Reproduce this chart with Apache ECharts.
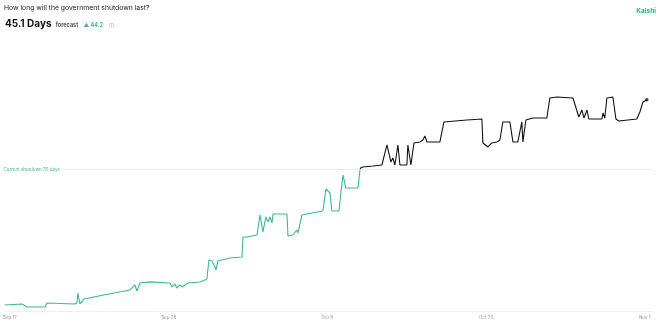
<!DOCTYPE html>
<html><head><meta charset="utf-8">
<script src="https://cdn.jsdelivr.net/npm/echarts@6/dist/echarts.min.js"></script>
<style>html,body{margin:0;padding:0;background:#fff}#c{width:658px;height:323px}</style>
</head><body><div id="c"></div>
<script>
const titleText = "How long will the government shutdown last?";
const forecastValue = "45.1 Days";
const changeText = "▲ 44.2";
const brand = "Kalshi";
const refLabel = "Current shutdown 35 days";
const refValue = 35;
const tickDays = [0, 11, 22, 33, 44];
const tickLabels = ["Sep 17", "Sep 28", "Oct 9", "Oct 20", "Nov 1"];
// days since Sep 17
const days = [-0.35,0.83,1.18,2.43,2.56,4.50,4.64,4.71,4.85,5.13,5.20,6.5,8.32,8.39,8.66,8.80,9.01,9.70,11.09,11.23,11.43,11.57,11.78,11.92,12.34,13.17,13.51,13.65,13.79,14.00,14.21,14.28,14.41,15.25,16.08,16.15,16.42,17.12,17.33,17.53,17.74,17.88,18.02,18.16,18.23,19.20,19.27,19.61,19.89,19.96,20.24,20.93,21.00,21.69,21.90,22.18,22.31,22.80,22.94,23.08,23.28,24.12,24.26,24.30,24.46,25.16,25.78,26.13,26.40,26.54,26.68,26.89,27.03,27.51,27.58,27.79,28.00,28.41,28.62,28.76,28.90,29.80,30.08,31.67,32.71,32.78,33.13,33.40,33.75,33.96,34.16,34.65,34.86,35.20,35.48,35.55,35.76,36.24,37.21,37.42,37.91,39.02,39.43,39.64,39.78,39.99,40.12,41.03,41.10,41.23,41.37,41.79,42.00,42.20,43.45,43.66,43.87,44.14];
// forecast length in days
const forecast = [15.47,15.62,15.18,15.18,15.76,15.62,15.76,17.20,15.62,16.34,16.34,16.9,17.64,17.64,18.36,17.49,18.65,18.8,18.65,18.07,18.50,17.92,18.36,18.07,18.65,18.79,19.08,19.22,21.97,21.82,20.96,20.52,21.82,22.25,22.40,25.28,25.28,25.57,28.46,26.01,28.17,27.45,28.17,27.31,28.60,28.60,25.43,25.57,26.29,25.86,28.46,28.75,28.89,29.04,32.21,31.63,29.04,29.04,31.63,34.23,32.35,32.35,34.95,35.24,35.39,35.53,35.67,38.56,36.11,36.68,35.67,38.56,35.67,35.67,38.56,35.67,38.85,39.00,39.28,39.86,39.00,39.00,41.88,42.17,42.31,38.85,38.27,38.85,39.00,39.28,41.88,41.88,39.00,39.00,41.88,39.00,42.17,42.46,42.46,45.34,45.49,45.34,42.60,43.61,42.46,43.61,42.31,42.31,43.18,42.46,45.34,45.49,42.31,42.02,42.31,43.32,44.76,45.1];

const green = '#3bb993';
const dark = '#111';
const yMin = 14.6, yMax = 54;
const pts = days.map((d, i) => [d, forecast[i]]);
const chart = echarts.init(document.getElementById('c'), null, {renderer: 'canvas'});
chart.setOption({
  animation: false,
  textStyle: {fontFamily: 'Inter, "Open Sans", sans-serif'},
  title: [
    {text: titleText, left: 4, top: 4, padding: 0, textStyle: {fontSize: 6.8, fontWeight: 'normal', color: '#222'}},
    {text: '{a|' + forecastValue + '} {b|forecast} {c|' + changeText + '} {d|ⓘ}', left: 5, top: 15, padding: 0,
     textStyle: {rich: {
       a: {fontSize: 10, fontWeight: 'bold', color: '#111'},
       b: {fontSize: 5.5, color: '#555', padding: [2, 0, 0, 0]},
       c: {fontSize: 5.5, color: green, padding: [2, 0, 0, 1]},
       d: {fontSize: 5, color: '#bbb', padding: [2, 0, 0, 2]}
     }}},
    {text: brand, right: 2, top: 8, padding: 0, textStyle: {fontSize: 6.5, fontWeight: 'bold', color: '#1fb884'}}
  ],
  grid: {left: 4, right: 6, top: 38, bottom: 12},
  xAxis: {
    type: 'value', min: -0.4, max: 44.5,
    axisLine: {show: true, lineStyle: {color: '#f0f0f0'}},
    axisTick: {show: false},
    splitLine: {show: false},
    axisLabel: {customValues: tickDays, fontSize: 4.5, color: '#999', margin: 4,
      formatter: v => tickLabels[tickDays.indexOf(Math.round(v))] || ''}
  },
  yAxis: {
    type: 'value', min: yMin, max: yMax,
    axisLine: {show: false}, axisTick: {show: false}, axisLabel: {show: false},
    splitLine: {show: false}
  },
  series: [
    {
      type: 'line', data: pts, showSymbol: false, lineStyle: {width: 1.1, color: green}, z: 3
    },
    {
      type: 'scatter', data: [pts[pts.length - 1]], symbolSize: 3.5,
      itemStyle: {color: dark}, z: 4,
      markLine: {
        silent: true, symbol: 'none',
        lineStyle: {color: '#ececec', type: 'solid', width: 1},
        label: {show: true, position: 'start', formatter: refLabel, fontSize: 4.5, color: green, distance: 2},
        data: [[{coord: [3.6, refValue]}, {coord: [44.5, refValue]}]]
      }
    }
  ]
});
const yTop = chart.convertToPixel({yAxisIndex: 0}, yMax);
const yBot = chart.convertToPixel({yAxisIndex: 0}, yMin);
const yRef = chart.convertToPixel({yAxisIndex: 0}, refValue);
const f = (yRef - yTop) / (yBot - yTop);
chart.setOption({series: [{lineStyle: {color: new echarts.graphic.LinearGradient(0, yTop, 0, yBot, [
  {offset: 0, color: dark}, {offset: f, color: dark}, {offset: f, color: green}, {offset: 1, color: green}
], true)}}]});
</script></body></html>
